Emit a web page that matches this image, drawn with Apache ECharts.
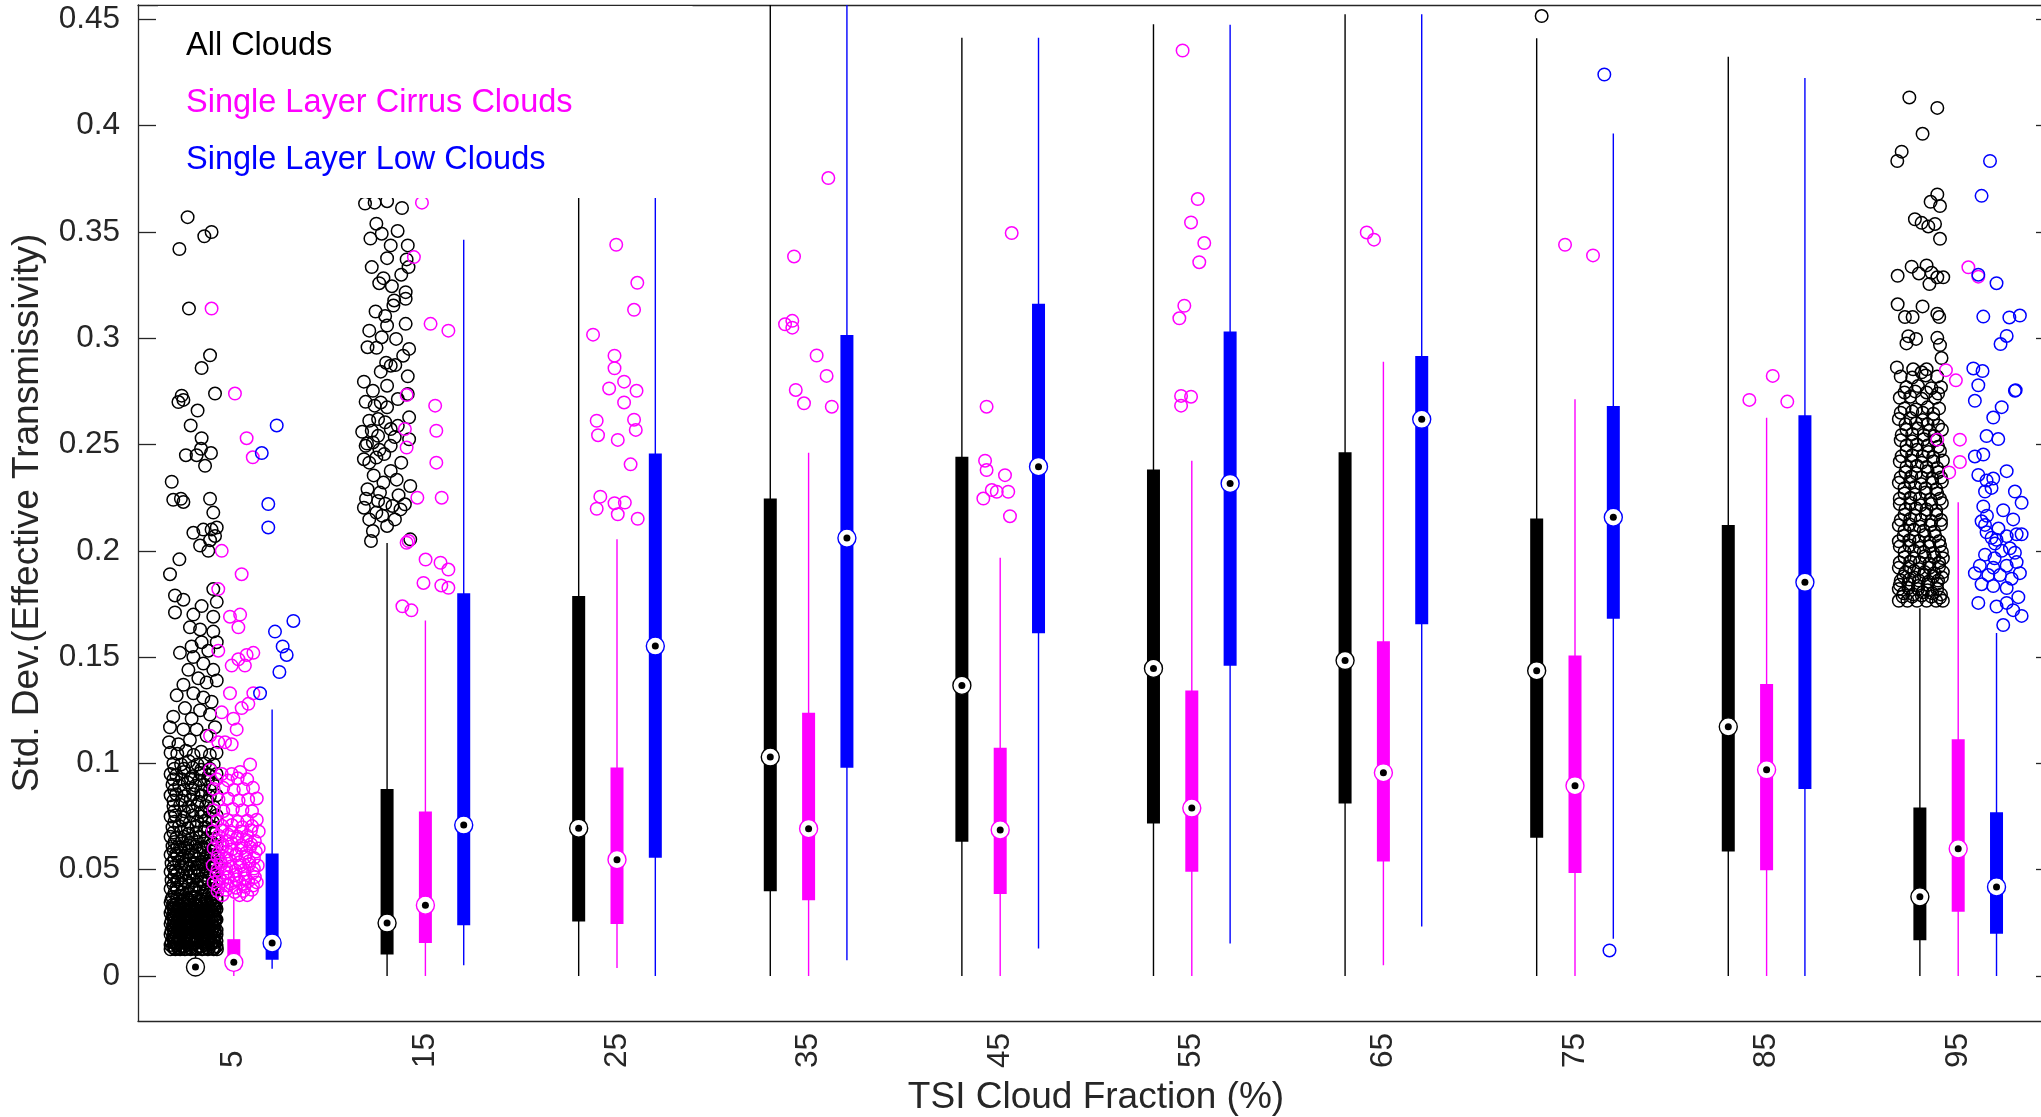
<!DOCTYPE html>
<html>
<head>
<meta charset="utf-8">
<script src="https://cdn.jsdelivr.net/npm/echarts@6/dist/echarts.min.js"></script>
<style>
  html, body { margin: 0; padding: 0; background: #fff; }
  #main { width: 2041px; height: 1117px; }
</style>
</head>
<body>
<div id="main"></div>
<script>
// TSI cloud fraction bins (x axis)
const categories = [5, 15, 25, 35, 45, 55, 65, 75, 85, 95];
const yTicks = [0, 0.05, 0.1, 0.15, 0.2, 0.25, 0.3, 0.35, 0.4, 0.45];
const groupNames = ['All Clouds', 'Single Layer Cirrus Clouds', 'Single Layer Low Clouds'];

// [lower whisker, q1, median, q3, upper whisker] per bin
const allStats = [
  [0, 0.002, 0.0042, 0.006, 0.0095],
  [0, 0.0101, 0.0249, 0.088, 0.2037],
  [0, 0.0256, 0.0695, 0.1788, 0.40],
  [0, 0.0398, 0.103, 0.2246, 0.47],
  [0, 0.0631, 0.1367, 0.2443, 0.4414],
  [0, 0.0717, 0.1447, 0.2383, 0.4477],
  [0, 0.0811, 0.1484, 0.2464, 0.4524],
  [0, 0.065, 0.1436, 0.2152, 0.4411],
  [0, 0.0585, 0.1172, 0.2121, 0.4325],
  [0, 0.0168, 0.0372, 0.0793, 0.173]
];
const cirrusStats = [
  [0, 0.003, 0.0064, 0.0173, 0.036],
  [0, 0.0155, 0.0333, 0.0774, 0.1672],
  [0.0037, 0.0244, 0.0547, 0.0981, 0.2055],
  [0, 0.0356, 0.0693, 0.1238, 0.2461],
  [0, 0.0386, 0.0687, 0.1073, 0.1968],
  [0, 0.049, 0.079, 0.1343, 0.2424],
  [0.005, 0.0538, 0.0956, 0.1575, 0.289],
  [0, 0.0484, 0.0895, 0.1508, 0.2713],
  [0, 0.0497, 0.097, 0.1373, 0.2626],
  [0, 0.0302, 0.0598, 0.1113, 0.2229]
];
const lowStats = [
  [0.0034, 0.0076, 0.0155, 0.0576, 0.1254],
  [0.005, 0.0239, 0.071, 0.1801, 0.3464],
  [0, 0.0556, 0.1552, 0.2458, 0.40],
  [0.0074, 0.098, 0.206, 0.3016, 0.47],
  [0.0129, 0.1612, 0.2396, 0.3162, 0.4414],
  [0.0153, 0.1459, 0.2317, 0.3032, 0.4475],
  [0.0233, 0.1655, 0.2619, 0.2917, 0.4524],
  [0.0175, 0.168, 0.2158, 0.2681, 0.3963],
  [0, 0.0879, 0.1852, 0.2638, 0.4225],
  [0, 0.0198, 0.0419, 0.077, 0.1614]
];

// outliers [x position on the fraction axis, value]
const allOutliers = [
  // 5%
  [2.59,0.357],[2.16,0.342],[3.46,0.348],[3.84,0.350],[2.66,0.314],[3.76,0.292],[3.32,0.286],
  [4.02,0.274],[2.28,0.273],[2.11,0.270],[2.37,0.271],[3.11,0.266],[2.75,0.259],[3.32,0.253],
  [2.50,0.245],[3.06,0.245],[3.81,0.246],[3.50,0.240],[3.29,0.248],[1.76,0.2325],[1.84,0.224],
  [2.24,0.2245],[2.37,0.223],[3.76,0.2245],[3.93,0.218],[2.89,0.2085],[3.41,0.210],[3.84,0.210],
  [4.11,0.211],[3.24,0.2025],[3.76,0.205],[3.67,0.200],[4.02,0.207],[2.16,0.196],[1.67,0.189],
  [1.93,0.179],[2.37,0.177],[1.93,0.171],[2.89,0.170],[3.32,0.174],[3.93,0.182],[4.11,0.176],
  [3.93,0.169],[2.71,0.164],[3.24,0.163],[3.93,0.162],[4.11,0.157],[2.19,0.152],[2.80,0.155],
  [3.32,0.157],[3.67,0.153],[2.89,0.150],[3.41,0.147],[2.63,0.144],[3.93,0.144],[2.37,0.137],
  [3.15,0.140],[3.58,0.138],[4.11,0.139],[2.02,0.132],[2.89,0.133],[3.41,0.131],[3.84,0.129],
  [2.45,0.126],[3.24,0.125],[1.84,0.122],[2.80,0.121],[3.76,0.123],[1.67,0.117],[2.37,0.116],
  [3.06,0.116],[4.02,0.117],[1.62,0.110],[2.11,0.109],[2.71,0.111],[3.58,0.113],
  [1.7,0.105],[2.05,0.1045],[2.5,0.106],[2.9,0.104],[3.3,0.1055],[3.75,0.104],[4.1,0.105],
  [1.85,0.100],[2.25,0.0995],[2.65,0.101],[3.1,0.0995],[3.5,0.100],[3.95,0.0995],
  [1.7,0.095],[2.0,0.0945],[2.4,0.096],[2.85,0.094],[3.25,0.0955],[3.7,0.0945],[4.1,0.095],
  [1.8,0.090],[2.15,0.0895],[2.6,0.091],[3.0,0.0895],[3.45,0.090],[3.9,0.0905],
  [1.7,0.085],[2.0,0.0855],[2.45,0.0845],[2.9,0.0855],[3.3,0.085],[3.75,0.0845],[4.1,0.085],
  [1.85,0.080],[2.2,0.0805],[2.65,0.0795],[3.1,0.0805],[3.55,0.080],[3.95,0.0795],
  [1.7,0.075],[1.95,0.0755],[2.4,0.0745],[2.85,0.0755],[3.3,0.075],[3.7,0.0745],[4.1,0.0755],
  [1.8,0.070],[2.15,0.0705],[2.6,0.0695],[3.05,0.0705],[3.5,0.070],[3.9,0.0695],
  [1.7,0.0655],[2.0,0.065],[2.4,0.0655],[2.8,0.0645],[3.2,0.0655],[3.6,0.065],[4.0,0.0645],
  [1.8,0.061],[2.2,0.0605],[2.6,0.0615],[3.0,0.061],[3.4,0.0605],[3.8,0.0615],[4.1,0.061],
  [1.7,0.057],[2.0,0.0575],[2.4,0.0565],[2.8,0.057],[3.2,0.0575],[3.6,0.0565],[4.0,0.057],
  [1.75,0.053],[2.15,0.0535],[2.55,0.0525],[2.95,0.053],[3.35,0.0535],[3.75,0.053],[4.1,0.0525],
  [1.7,0.049],[1.95,0.0495],[2.35,0.0485],[2.75,0.049],[3.15,0.0495],[3.55,0.049],[3.95,0.0485],
  [1.75,0.045],[2.1,0.0455],[2.5,0.0445],[2.9,0.045],[3.3,0.0455],[3.7,0.045],[4.1,0.0445],
  [1.7,0.041],[2.0,0.0415],[2.4,0.0405],[2.8,0.041],[3.2,0.0415],[3.6,0.0405],[4.0,0.041],
  [1.8,0.037],[2.2,0.0375],[2.6,0.0365],[3.0,0.037],[3.4,0.0375],[3.8,0.0365],[4.1,0.037],
  [1.9,0.0975],[2.4,0.0975],[2.85,0.098],[3.3,0.097],[3.75,0.0975],
  [1.85,0.0925],[2.3,0.0925],[2.75,0.093],[3.2,0.092],[3.65,0.0925],
  [1.9,0.0875],[2.4,0.0875],[2.85,0.088],[3.3,0.087],[3.75,0.0875],
  [1.85,0.0825],[2.3,0.0825],[2.75,0.083],[3.2,0.082],[3.65,0.0825],
  [1.9,0.0775],[2.4,0.0775],[2.85,0.078],[3.3,0.077],[3.75,0.0775],
  [1.9,0.0725],[2.3,0.073],[2.7,0.072],[3.1,0.0725],[3.5,0.073],[3.9,0.0725],
  [1.85,0.0675],[2.25,0.068],[2.65,0.067],[3.05,0.0675],[3.45,0.068],[3.85,0.0675],
  [1.9,0.063],[2.3,0.0635],[2.7,0.0625],[3.1,0.063],[3.5,0.0635],[3.9,0.0625],
  [1.85,0.059],[2.25,0.0595],[2.65,0.0585],[3.05,0.059],[3.45,0.0595],[3.85,0.0585],
  [1.9,0.055],[2.3,0.0555],[2.7,0.0545],[3.1,0.055],[3.5,0.0555],[3.9,0.0545],
  [1.85,0.051],[2.25,0.0515],[2.65,0.0505],[3.05,0.051],[3.45,0.0515],[3.85,0.0505],
  [1.9,0.047],[2.3,0.0475],[2.7,0.0465],[3.1,0.047],[3.5,0.0475],[3.9,0.0465],
  [1.85,0.043],[2.25,0.0435],[2.65,0.0425],[3.05,0.043],[3.45,0.0435],[3.85,0.0425],
  [1.9,0.039],[2.3,0.0395],[2.7,0.0385],[3.1,0.039],[3.5,0.0395],[3.9,0.0385],
  [2.05,0.0405],[2.5,0.0445],[2.95,0.0405],[3.4,0.0445],[3.8,0.0405],[2.05,0.0485],[2.5,0.0525],
  [2.95,0.0485],[3.4,0.0525],[3.8,0.0485],[2.05,0.0565],[2.5,0.0605],[2.95,0.0565],[3.4,0.0605],
  [3.8,0.0565],[2.5,0.0445],[2.05,0.0445],[3.8,0.0525],[2.95,0.0525],[2.05,0.0605],
  [1.75,0.036],[2.05,0.0365],[2.35,0.0355],[2.65,0.036],[2.95,0.0365],[3.25,0.0355],[3.55,0.036],[3.85,0.0365],[4.1,0.0355],
  [1.7,0.0345],[2.0,0.034],[2.3,0.035],[2.65,0.0345],[2.95,0.034],[3.3,0.035],[3.6,0.0345],[3.9,0.034],
  [1.83,0.0335],[2.12,0.033],[2.42,0.034],[2.72,0.0335],[3.02,0.033],[3.32,0.034],[3.62,0.0335],[3.92,0.033],
  [1.85,0.032],[2.15,0.0325],[2.45,0.0315],[2.8,0.032],[3.1,0.0325],[3.45,0.0315],[3.75,0.032],[4.05,0.0325],
  [1.75,0.031],[2.05,0.0305],[2.35,0.0315],[2.65,0.031],[2.95,0.0305],[3.25,0.0315],[3.55,0.031],[3.85,0.0305],[4.1,0.0315],
  [1.7,0.0295],[2.0,0.029],[2.3,0.03],[2.6,0.0295],[2.95,0.029],[3.25,0.03],[3.55,0.0295],[3.9,0.029],
  [1.83,0.0285],[2.12,0.028],[2.42,0.029],[2.72,0.0285],[3.02,0.028],[3.32,0.029],[3.62,0.0285],[3.92,0.028],
  [1.85,0.027],[2.15,0.0265],[2.45,0.0275],[2.75,0.027],[3.05,0.0265],[3.4,0.0275],[3.7,0.027],[4.05,0.0265],
  [1.75,0.026],[2.05,0.0255],[2.35,0.0265],[2.65,0.026],[2.95,0.0255],[3.25,0.0265],[3.55,0.026],[3.85,0.0255],[4.1,0.0265],
  [1.7,0.0245],[2.0,0.024],[2.3,0.025],[2.6,0.0245],[2.9,0.024],[3.2,0.025],[3.5,0.0245],[3.85,0.024],
  [1.83,0.0235],[2.12,0.023],[2.42,0.024],[2.72,0.0235],[3.02,0.023],[3.32,0.024],[3.62,0.0235],[3.92,0.023],
  [1.85,0.022],[2.15,0.0215],[2.45,0.0225],[2.75,0.022],[3.05,0.0215],[3.35,0.0225],[3.65,0.022],[4.0,0.0215],
  [1.75,0.021],[2.05,0.0205],[2.35,0.0215],[2.65,0.021],[2.95,0.0205],[3.25,0.0215],[3.55,0.021],[3.85,0.0205],[4.1,0.0215],
  [1.7,0.0195],[2.0,0.019],[2.3,0.02],[2.6,0.0195],[2.9,0.019],[3.2,0.02],[3.5,0.0195],[3.8,0.019],[4.1,0.0195],
  [1.83,0.0185],[2.12,0.018],[2.42,0.019],[2.72,0.0185],[3.02,0.018],[3.32,0.019],[3.62,0.0185],[3.92,0.018],
  [1.85,0.017],[2.15,0.0165],[2.45,0.0175],[2.75,0.017],[3.05,0.0165],[3.35,0.0175],[3.65,0.017],[3.95,0.0165],
  [1.75,0.016],[2.05,0.0155],[2.35,0.0165],[2.65,0.016],[2.95,0.0155],[3.25,0.0165],[3.55,0.016],[3.85,0.0155],[4.1,0.0165],
  [1.7,0.0145],[2.0,0.015],[2.3,0.014],[2.6,0.0145],[2.9,0.015],[3.2,0.014],[3.5,0.0145],[3.8,0.015],[4.1,0.014],
  [1.83,0.0135],[2.1,0.013],[2.4,0.014],[2.7,0.0135],[3.0,0.013],[3.3,0.014],[3.6,0.0135],[3.9,0.013],
  [1.7,0.0125],[1.95,0.0125],[2.2,0.0125],[2.45,0.0125],[2.75,0.0125],[3.05,0.0125],[3.35,0.0125],[3.65,0.0125],[3.95,0.0125],[4.12,0.0125],
  [1.9,0.013],[2.2,0.0132],[2.5,0.0128],[2.8,0.013],[3.1,0.0132],[3.4,0.0128],[3.7,0.013],[4.0,0.0132],
  [1.9,0.0155],[2.2,0.0157],[2.5,0.0153],[2.8,0.0155],[3.1,0.0157],[3.4,0.0153],[3.7,0.0155],[4.0,0.0157],
  [1.9,0.018],[2.2,0.0182],[2.5,0.0178],[2.8,0.018],[3.1,0.0182],[3.4,0.0178],[3.7,0.018],[4.0,0.0182],
  [1.9,0.0205],[2.2,0.0207],[2.5,0.0203],[2.8,0.0205],[3.1,0.0207],[3.4,0.0203],[3.7,0.0205],[4.0,0.0207],
  [1.9,0.023],[2.2,0.0232],[2.5,0.0228],[2.8,0.023],[3.1,0.0232],[3.4,0.0228],[3.7,0.023],[4.0,0.0232],
  [1.9,0.0255],[2.2,0.0257],[2.5,0.0253],[2.8,0.0255],[3.1,0.0257],[3.4,0.0253],[3.7,0.0255],[4.0,0.0257],
  [1.9,0.028],[2.2,0.0282],[2.5,0.0278],[2.8,0.028],[3.1,0.0282],[3.4,0.0278],[3.7,0.028],[4.0,0.0282],
  [1.9,0.0305],[2.2,0.0307],[2.5,0.0303],[2.8,0.0305],[3.1,0.0307],[3.4,0.0303],[3.7,0.0305],[4.0,0.0307],
  [1.9,0.033],[2.2,0.0332],[2.5,0.0328],[2.8,0.033],[3.1,0.0332],[3.4,0.0328],[3.7,0.033],[4.0,0.0332],
  // 15%
  [11.85,0.3634],[12.35,0.3638],[13.0,0.3645],[13.78,0.3613],[12.44,0.3539],[12.72,0.3492],[12.13,0.3469],
  [13.19,0.3437],[14.08,0.3437],[13.0,0.3377],[14.02,0.3371],[14.12,0.3335],[13.74,0.3299],[12.81,0.3283],
  [12.59,0.3259],[13.97,0.3217],[13.37,0.3178],[13.97,0.3186],[13.33,0.3154],[12.40,0.3126],[13.0,0.306],
  [13.97,0.3068],[12.07,0.3036],[12.72,0.3005],[13.47,0.2997],[11.98,0.2958],[14.15,0.295],[13.43,0.2874],
  [12.67,0.2843],[14.08,0.2821],[11.79,0.2796],[12.26,0.2753],[14.08,0.2738],[11.88,0.2701],[12.67,0.2698],
  [13.0,0.2675],[14.15,0.2628],[12.07,0.2612],[11.70,0.256],[12.53,0.2541],[13.19,0.2573],[12.26,0.251],
  [13.19,0.2494],[14.15,0.2525],[11.79,0.2431],[12.44,0.2439],[13.74,0.2415],[13.19,0.2376],[11.98,0.229],
  [12.63,0.2274],[14.21,0.2305],[11.79,0.2203],[12.53,0.2235],[13.28,0.2211],[13.93,0.2219],[12.07,0.2148],
  [13.0,0.2117],[12.26,0.2093],[12.16,0.2046],[14.21,0.2054],[11.88,0.2494],[12.53,0.262],[13.0,0.2777],
  [13.56,0.2714],[12.81,0.2321],[13.41,0.2148],[12.07,0.2415],[13.56,0.2588],[12.44,0.218],[13.19,0.2871],
  [13.84,0.2918],[12.35,0.2683],[11.9,0.2245],[12.9,0.2222],[13.6,0.2262],[11.95,0.2505],[12.85,0.2455],
  [12.2,0.2565],[12.9,0.2605],[13.4,0.2535],[12.6,0.2475],[13.5,0.2335],[12.3,0.2355],[12.75,0.2165],
  [13.7,0.2195],[12.95,0.2885],[12.45,0.2955],[13.25,0.3245],[12.2,0.3335],[13.55,0.3505],[12.9,0.3105],
  // 75%
  [73.26,0.4516],
  // 95%
  [92.45,0.4133],[93.91,0.4084],[93.14,0.3962],[92.05,0.3878],[91.82,0.3834],[93.91,0.3677],[93.56,0.3642],
  [94.05,0.3622],[92.74,0.356],[93.09,0.3543],[93.44,0.3526],[93.79,0.3538],[94.05,0.3468],[91.84,0.3294],
  [92.57,0.3337],[93.35,0.3343],[93.61,0.3308],[93.91,0.3287],[94.22,0.3287],[93.5,0.3255],[92.95,0.3305],
  [91.84,0.316],[92.22,0.310],[92.62,0.310],[93.14,0.315],[93.91,0.3116],[94.01,0.310],[92.4,0.301],
  [92.8,0.2997],[93.91,0.3002],[92.3,0.2976],[94.05,0.2968],[91.8,0.2863],[92.65,0.2854],[93.09,0.284],
  [93.35,0.2854],[94.13,0.2907],
  [92.0,0.282],[92.6,0.2815],[93.3,0.2825],[93.9,0.282],[92.3,0.277],[92.9,0.2775],[93.6,0.2765],[94.1,0.277],
  [91.95,0.272],[92.5,0.2725],[93.1,0.2715],[93.8,0.272],[92.2,0.267],[92.8,0.2665],[93.4,0.2675],[94.0,0.267],
  [91.9,0.262],[92.5,0.2625],[93.15,0.2615],[93.7,0.262],[92.3,0.257],[92.9,0.2575],[93.5,0.2565],[94.15,0.257],
  [92.0,0.252],[92.6,0.2515],[93.2,0.2525],[93.8,0.252],[92.3,0.247],[92.85,0.2475],[93.45,0.2465],[94.05,0.247],
  [91.95,0.242],[92.55,0.2425],[93.1,0.2415],[93.7,0.242],[94.2,0.2425],[92.25,0.237],[92.8,0.2365],[93.4,0.2375],
  [93.95,0.237],[91.9,0.232],[92.5,0.2325],[93.05,0.2315],[93.65,0.232],[94.15,0.2325],[92.2,0.227],[92.75,0.2265],
  [93.3,0.2275],[93.9,0.227],[91.95,0.222],[92.5,0.2225],[93.05,0.2215],[93.6,0.222],[94.15,0.2225],[92.2,0.217],
  [92.75,0.2165],[93.3,0.2175],[93.85,0.217],[91.9,0.212],[92.45,0.2125],[93.0,0.2115],[93.55,0.212],[94.1,0.2125],
  [92.15,0.207],[92.7,0.2065],[93.25,0.2075],[93.8,0.207],[91.95,0.202],[92.45,0.2025],[93.0,0.2015],[93.5,0.202],
  [94.05,0.2025],[92.2,0.197],[92.7,0.1965],[93.25,0.1975],[93.75,0.197],[94.2,0.1965],[91.9,0.192],[92.45,0.1925],
  [92.95,0.1915],[93.5,0.192],[94.0,0.1925],[92.15,0.188],[92.7,0.1875],[93.2,0.1885],[93.7,0.188],[94.15,0.1875],
  [91.95,0.184],[92.4,0.1845],[92.9,0.1835],[93.4,0.184],[93.9,0.1845],[92.15,0.180],[92.65,0.1795],[93.15,0.1805],
  [93.65,0.180],[94.1,0.1795],[91.9,0.1765],[92.35,0.1765],[92.85,0.1765],[93.35,0.1765],[93.85,0.1765],[94.2,0.1765],
  [92.1,0.1785],[92.6,0.1785],[93.1,0.179],[93.6,0.1785],[94.05,0.178],[91.9,0.182],[92.4,0.1825],[92.9,0.182],
  [93.4,0.1815],[93.9,0.182],[92.0,0.186],[92.45,0.1865],[92.95,0.186],[93.45,0.1855],[93.95,0.186],
  [92.25,0.190],[92.7,0.1905],[93.25,0.190],[93.75,0.1895],[94.2,0.190],[91.95,0.1945],[92.5,0.195],[93.0,0.1945],
  [93.5,0.194],[94.0,0.1945],[92.2,0.1995],[92.7,0.2],[93.2,0.1995],[93.7,0.199],[94.15,0.1995],[91.9,0.2045],
  [92.45,0.205],[92.95,0.2045],[93.5,0.204],[94.0,0.2045],[92.2,0.2095],[92.7,0.21],[93.2,0.2095],[93.75,0.209],
  [92.0,0.2145],[92.5,0.215],[93.05,0.2145],[93.6,0.214],[94.1,0.2145],[92.25,0.2195],[92.8,0.22],[93.35,0.2195],
  [93.85,0.219],[91.95,0.2245],[92.5,0.225],[93.0,0.2245],[93.55,0.224],[94.05,0.2245],[92.2,0.2295],[92.75,0.23],
  [93.3,0.2295],[93.85,0.229],[92.0,0.2345],[92.55,0.235],[93.1,0.2345],[93.65,0.234],[94.1,0.2345],[92.3,0.2395],
  [92.85,0.24],[93.35,0.2395],[93.9,0.239],[92.05,0.2445],[92.6,0.245],[93.15,0.2445],[93.7,0.244],[92.3,0.2495],
  [92.85,0.25],[93.4,0.2495],[93.95,0.249],[92.05,0.2545],[92.6,0.255],[93.2,0.2545],[93.75,0.254],[92.25,0.2595],
  [92.8,0.26],[93.4,0.2595],[93.95,0.259],[92.0,0.265],[92.6,0.2655],[93.15,0.265],[93.7,0.2645],[92.2,0.2745],
  [92.75,0.275],[93.35,0.2745],[93.95,0.274]
];

const cirrusOutliers = [
  // 5%
  [3.84,0.314],[5.06,0.274],[5.67,0.253],[5.99,0.244],[4.37,0.200],[4.19,0.182],[5.41,0.189],
  [4.80,0.169],[5.24,0.164],[5.33,0.170],[4.19,0.153],[4.89,0.146],[5.24,0.149],[5.67,0.151],
  [6.02,0.152],[5.58,0.146],[4.80,0.133],[4.37,0.124],[4.98,0.121],[5.41,0.126],[5.76,0.128],
  [6.02,0.133],[5.15,0.116],[3.76,0.113],[4.19,0.110],[4.54,0.110],[4.89,0.109],[3.76,0.097],
  [4.37,0.095],[4.89,0.095],[5.33,0.096],[5.85,0.0995],
  [4.1,0.0925],[4.7,0.092],[5.2,0.093],[5.7,0.0925],[3.95,0.088],[4.45,0.0885],[5.0,0.0875],[5.5,0.088],[6.0,0.0885],
  [4.2,0.083],[4.7,0.0835],[5.25,0.0825],[5.75,0.083],[6.2,0.0835],[3.95,0.078],[4.45,0.0775],[4.95,0.0785],[5.45,0.078],[5.95,0.0775],
  [4.15,0.073],[4.65,0.0735],[5.2,0.0725],[5.7,0.073],[6.2,0.0735],[3.9,0.068],[4.4,0.0685],[4.9,0.0675],[5.4,0.068],[5.9,0.0685],[6.3,0.068],
  [4.15,0.064],[4.65,0.0635],[5.15,0.0645],[5.65,0.064],[6.1,0.0635],[3.95,0.060],[4.4,0.0605],[4.9,0.0595],[5.4,0.060],[5.85,0.0605],[6.3,0.060],
  [4.15,0.056],[4.6,0.0555],[5.1,0.0565],[5.6,0.056],[6.05,0.0555],[3.9,0.052],[4.35,0.0525],[4.85,0.0515],[5.35,0.052],[5.8,0.0525],[6.25,0.052],
  [4.1,0.048],[4.6,0.0485],[5.05,0.0475],[5.55,0.048],[6.0,0.0485],[3.95,0.044],[4.4,0.0445],[4.85,0.0435],[5.3,0.044],[5.75,0.0445],[6.2,0.044],
  [4.15,0.040],[4.6,0.0405],[5.05,0.0395],[5.5,0.040],[5.95,0.0405],[4.4,0.038],[5.3,0.038],[5.7,0.038],
  [4.2,0.042],[4.65,0.0425],[5.1,0.0415],[5.55,0.042],[6.0,0.0425],[4.25,0.046],[4.7,0.0465],[5.15,0.0455],[5.6,0.046],[6.1,0.0465],
  [4.15,0.050],[4.6,0.0505],[5.1,0.0495],[5.55,0.050],[6.05,0.0505],[4.3,0.054],[4.8,0.0545],[5.3,0.0535],[5.8,0.054],
  [4.2,0.058],[4.65,0.0585],[5.15,0.0575],[5.65,0.058],[6.15,0.0585],[4.4,0.062],[4.9,0.0625],[5.4,0.0615],[5.9,0.062],
  [4.2,0.066],[4.7,0.0665],[5.2,0.0655],[5.7,0.066],[4.4,0.0705],[4.9,0.071],[5.45,0.070],[5.95,0.0705],
  // 15%
  [14.82,0.3638],[14.40,0.3382],[15.27,0.3068],[16.20,0.3036],[14.02,0.2733],[15.51,0.2683],[13.93,0.2573],
  [15.57,0.2565],[14.02,0.2486],[15.57,0.2415],[14.58,0.225],[15.85,0.225],[14.12,0.2046],[14.02,0.2038],
  [15.01,0.1959],[15.79,0.1944],[16.20,0.1912],[14.90,0.1849],[15.83,0.1837],[16.20,0.1826],[13.80,0.1739],[14.27,0.172],
  // 25%
  [24.96,0.344],[26.06,0.3261],[25.89,0.3134],[23.75,0.3017],[24.87,0.2918],[24.87,0.2859],[25.37,0.2796],
  [24.59,0.2764],[26.02,0.2753],[25.37,0.2698],[23.94,0.2612],[25.89,0.2617],[25.98,0.2569],[24.01,0.2544],
  [25.04,0.2522],[25.71,0.2407],[24.13,0.2255],[24.87,0.2224],[25.41,0.2227],[23.94,0.2198],[25.04,0.2172],[26.08,0.2151],
  // 35%
  [36.03,0.3754],[34.24,0.3385],[33.77,0.3066],[34.15,0.3082],[34.15,0.305],[35.42,0.2919],[35.94,0.2823],
  [34.33,0.2757],[34.76,0.2694],[36.21,0.2678],
  // 45%
  [45.6,0.3495],[44.29,0.2678],[44.21,0.2424],[44.29,0.238],[45.25,0.2356],[44.56,0.2286],[44.82,0.2278],
  [45.42,0.2278],[44.12,0.2246],[45.51,0.2163],
  // 55%
  [54.52,0.4354],[55.31,0.3655],[54.96,0.3545],[55.65,0.3448],[55.39,0.3358],[54.61,0.3153],[54.35,0.3094],
  [54.44,0.2729],[54.96,0.2725],[54.44,0.2683],
  // 65%
  [64.13,0.3498],[64.51,0.3464],
  // 75%
  [74.48,0.344],[75.94,0.339],
  // 85%
  [85.32,0.2823],[84.1,0.271],[86.08,0.2702],
  // 95%
  [95.53,0.3334],[96.05,0.329],[94.36,0.285],[94.88,0.2802],[93.91,0.2523],[95.09,0.2523],[95.09,0.2418],[94.53,0.2369]
];

const lowOutliers = [
  // 5%
  [7.24,0.259],[6.46,0.246],[6.80,0.222],[6.80,0.211],[8.11,0.167],[7.15,0.162],[7.55,0.155],
  [7.76,0.151],[7.38,0.143],[6.37,0.133],
  // 75%
  [76.53,0.4241],[76.8,0.012],
  // 95%
  [96.66,0.3834],[96.22,0.367],[96.05,0.3299],[97.0,0.3259],[96.31,0.3102],[97.67,0.3098],[98.22,0.3107],
  [97.53,0.3011],[97.21,0.2973],[95.79,0.2858],[96.27,0.2846],[96.05,0.2779],[97.96,0.2753],[98.0,0.2756],
  [95.87,0.2706],[97.27,0.2676],[96.83,0.2627],[96.48,0.254],[97.09,0.2526],[95.87,0.2444],[96.31,0.2453],
  [97.53,0.2375],[96.05,0.2357],[96.48,0.2331],[96.83,0.234],[96.74,0.2296],[96.4,0.2279],[97.96,0.2279],
  [98.31,0.2226],[96.31,0.2209],[97.35,0.2191],[97.87,0.2148],[96.22,0.2139],[96.4,0.2122],[96.48,0.2087],
  [96.74,0.2061],[97.0,0.2052],[97.53,0.2069],[98.05,0.2078],[98.31,0.2078],[96.4,0.1982],[96.92,0.2034],
  [97.27,0.2],[97.96,0.1991],[96.13,0.193],[96.83,0.1921],[97.53,0.193],[98.05,0.1947],[95.87,0.1895],
  [96.57,0.1886],[97.18,0.1886],[97.79,0.1869],[98.22,0.1895],[96.22,0.1843],[96.83,0.1834],[97.53,0.1825],
  [98.14,0.1782],[96.05,0.1755],[97.0,0.1738],[97.53,0.1755],[97.87,0.1721],[98.31,0.1694],[97.35,0.1651],
  [96.5,0.2165],[97.1,0.2105],[96.9,0.1965],[97.7,0.2012]
];

const groupStats = [allStats, cirrusStats, lowStats];
const groupOutliers = [allOutliers, cirrusOutliers, lowOutliers];
const groupColors = ['#000000', '#ff00ff', '#0000ff'];
const groupShift = [-2, 0, 2];
const textColor = '#262626';
const font = "'Liberation Sans', Arial, Helvetica, sans-serif";

const chart = echarts.init(document.getElementById('main'), null, { renderer: 'canvas' });

function boxSeries(g) {
  const color = groupColors[g];
  return {
    name: groupNames[g],
    type: 'custom',
    clip: true,
    data: categories.map((c, i) => [c + groupShift[g]].concat(groupStats[g][i])),
    encode: { x: 0, y: [1, 2, 3, 4, 5] },
    renderItem: function (params, api) {
      const x = api.value(0);
      const lo = api.coord([x, api.value(1)]);
      const q1 = api.coord([x, api.value(2)]);
      const q3 = api.coord([x, api.value(4)]);
      const hi = api.coord([x, api.value(5)]);
      const w = 13;
      return {
        type: 'group',
        children: [
          { type: 'line', shape: { x1: lo[0], y1: lo[1], x2: hi[0], y2: hi[1] },
            style: { stroke: color, lineWidth: 1.4 } },
          { type: 'rect', shape: { x: q1[0] - w / 2, y: q3[1], width: w, height: q1[1] - q3[1] },
            style: { fill: color } }
        ]
      };
    }
  };
}

function outlierSeries(g) {
  return {
    name: groupNames[g],
    type: 'scatter',
    large: false,
    progressive: 0,
    symbol: 'circle',
    symbolSize: 12.5,
    itemStyle: { color: 'rgba(0,0,0,0)', borderColor: groupColors[g], borderWidth: 1.5, opacity: 1 },
    emphasis: { disabled: true },
    data: groupOutliers[g]
  };
}

function medianSeries(g) {
  const pts = categories.map((c, i) => [c + groupShift[g], groupStats[g][i][2]]);
  return [
    {
      name: groupNames[g], type: 'scatter', symbol: 'circle', symbolSize: 18, z: 3,
      itemStyle: { color: '#ffffff', borderColor: groupColors[g], borderWidth: 1.4, opacity: 1 },
      emphasis: { disabled: true }, data: pts
    },
    {
      name: groupNames[g], type: 'scatter', symbol: 'circle', symbolSize: 7, z: 3,
      itemStyle: { color: '#000000', opacity: 1 },
      emphasis: { disabled: true }, data: pts
    }
  ];
}

const series = [];
[0, 1, 2].forEach(g => {
  series.push(boxSeries(g));
  series.push(outlierSeries(g));
});
[0, 1, 2].forEach(g => { series.push(...medianSeries(g)); });

const axisLineStyle = { color: textColor, width: 1.3 };

chart.setOption({
  animation: false,
  backgroundColor: '#ffffff',
  textStyle: { fontFamily: font },
  grid: { left: 138, top: 5, width: 1916, height: 1016, containLabel: false, outerBoundsMode: 'none' },
  legend: {
    left: 158, top: 6,
    orient: 'vertical',
    icon: 'none',
    itemWidth: 0, itemHeight: 1,
    itemGap: 21,
    selectedMode: false,
    backgroundColor: '#ffffff',
    padding: [22, 120, 20, 23],
    textStyle: { fontSize: 32.5, lineHeight: 36, fontFamily: font },
    data: groupNames.map((n, g) => ({ name: n, textStyle: { color: groupColors[g] } })),
    z: 10
  },
  xAxis: [
    {
      type: 'value', min: 0, max: 100, interval: 5, position: 'bottom',
      axisLine: { onZero: false, lineStyle: axisLineStyle },
      axisTick: { show: false },
      splitLine: { show: false },
      axisLabel: {
        rotate: 90, align: 'left', margin: 47, fontSize: 31.5, color: textColor, fontFamily: font,
        formatter: v => (categories.indexOf(v) >= 0 ? String(v) : '')
      },
      name: 'TSI Cloud Fraction (%)', nameLocation: 'middle', nameGap: 58,
      nameTextStyle: { fontSize: 37, color: textColor, fontFamily: font }
    },
    {
      type: 'value', min: 0, max: 100, position: 'top',
      axisLine: { onZero: false, lineStyle: axisLineStyle },
      axisTick: { show: false }, axisLabel: { show: false }, splitLine: { show: false }
    }
  ],
  yAxis: [
    {
      type: 'value', min: -0.0212, max: 0.4568, position: 'left',
      axisLine: { show: true, onZero: false, lineStyle: axisLineStyle },
      axisTick: { show: true, inside: true, length: 18, customValues: yTicks, lineStyle: axisLineStyle },
      splitLine: { show: false },
      axisLabel: { customValues: yTicks, margin: 18, fontSize: 31.5, color: textColor, fontFamily: font },
      name: 'Std. Dev.(Effective Transmissivity)', nameLocation: 'middle', nameGap: 92,
      nameTextStyle: { fontSize: 37, color: textColor, fontFamily: font }
    },
    {
      type: 'value', min: -0.0212, max: 0.4568, position: 'right',
      axisLine: { show: true, onZero: false, lineStyle: axisLineStyle },
      axisTick: { show: true, inside: true, length: 18, customValues: yTicks, lineStyle: axisLineStyle },
      axisLabel: { show: false }, splitLine: { show: false }
    }
  ],
  series: series
});
</script>
</body>
</html>
